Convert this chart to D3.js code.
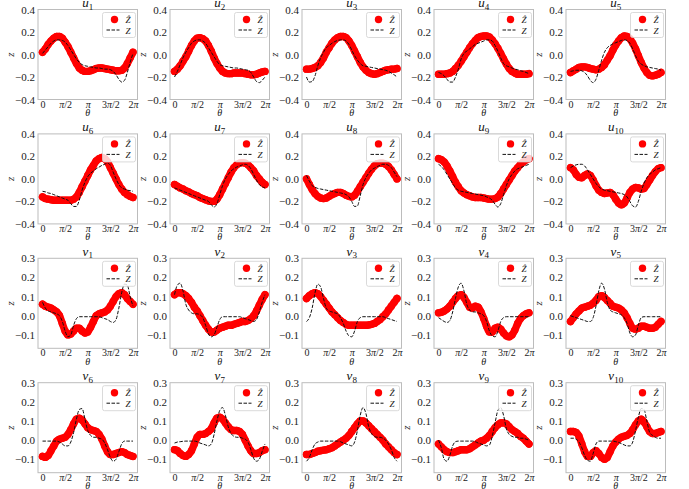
<!DOCTYPE html>
<html>
<head>
<meta charset="utf-8">
<script src="https://cdn.jsdelivr.net/npm/d3@7"></script>
<style>
body { margin: 0; background: #fff; }
svg { display: block; font-family: "Liberation Serif", "DejaVu Serif", serif; }
</style>
</head>
<body>
<div class="chart"></div>
<script>
// sample angles, in units of pi
const thetaPi = [0,0.0625,0.125,0.1875,0.25,0.3125,0.375,0.4375,0.5,0.5625,0.625,0.6875,0.75,0.8125,0.875,0.9375,1,
  1.0625,1.125,1.1875,1.25,1.3125,1.375,1.4375,1.5,1.5625,1.625,1.6875,1.75,1.8125,1.875,1.9375,2];

const xTickVals = [0, 0.5, 1, 1.5, 2];
const xTickLabels = [["0"], ["π", "/2"], ["π"], ["3", "π", "/2"], ["2", "π"]];
const yTicksU = [-0.4, -0.2, 0.0, 0.2, 0.4];
const yTicksV = [-0.1, 0.0, 0.1, 0.2, 0.3];

// predicted (Zhat, red dots) and true (Z, dashed) values
const u1Hat = [0.02,0.05,0.09,0.12,0.145,0.16,0.16,0.145,0.11,0.07,0.02,-0.03,-0.08,-0.12,-0.14,-0.15,-0.15,-0.145,-0.135,-0.125,-0.12,-0.12,-0.125,-0.13,-0.135,-0.14,-0.145,-0.145,-0.14,-0.12,-0.08,-0.03,0.02];
const u1Z = [0.01,0.04,0.07,0.10,0.12,0.13,0.13,0.125,0.11,0.08,0.04,0.0,-0.04,-0.07,-0.09,-0.1,-0.105,-0.11,-0.115,-0.12,-0.12,-0.125,-0.13,-0.13,-0.135,-0.15,-0.18,-0.22,-0.245,-0.23,-0.16,-0.07,0.01];
const u2Hat = [-0.15,-0.13,-0.10,-0.06,-0.02,0.03,0.08,0.12,0.145,0.15,0.14,0.12,0.08,0.03,-0.03,-0.08,-0.12,-0.15,-0.165,-0.17,-0.17,-0.165,-0.165,-0.165,-0.165,-0.17,-0.175,-0.18,-0.18,-0.175,-0.165,-0.155,-0.15];
const u2Z = [-0.2,-0.15,-0.09,-0.03,0.02,0.06,0.1,0.12,0.13,0.13,0.12,0.1,0.06,0.02,-0.02,-0.06,-0.09,-0.1,-0.105,-0.11,-0.115,-0.12,-0.12,-0.125,-0.13,-0.135,-0.14,-0.16,-0.2,-0.24,-0.25,-0.23,-0.2];
const u3Hat = [-0.13,-0.13,-0.125,-0.115,-0.1,-0.07,-0.03,0.02,0.06,0.1,0.13,0.15,0.16,0.16,0.15,0.12,0.08,0.03,-0.02,-0.07,-0.11,-0.14,-0.16,-0.17,-0.175,-0.17,-0.16,-0.15,-0.14,-0.135,-0.13,-0.13,-0.125];
const u3Z = [-0.2,-0.245,-0.24,-0.19,-0.1,-0.03,0.02,0.06,0.08,0.1,0.115,0.125,0.13,0.13,0.12,0.09,0.04,-0.01,-0.05,-0.08,-0.1,-0.105,-0.11,-0.115,-0.12,-0.125,-0.13,-0.135,-0.14,-0.15,-0.165,-0.18,-0.2];
const u4Hat = [-0.175,-0.175,-0.175,-0.17,-0.165,-0.15,-0.125,-0.095,-0.06,-0.02,0.02,0.06,0.095,0.125,0.15,0.16,0.165,0.165,0.155,0.13,0.095,0.055,0.01,-0.04,-0.085,-0.125,-0.15,-0.165,-0.175,-0.175,-0.175,-0.175,-0.17];
const u4Z = [-0.16,-0.17,-0.19,-0.22,-0.245,-0.245,-0.2,-0.13,-0.04,0.01,0.03,0.05,0.07,0.09,0.1,0.11,0.12,0.13,0.13,0.12,0.08,0.03,-0.03,-0.08,-0.1,-0.11,-0.12,-0.13,-0.135,-0.145,-0.15,-0.16,-0.17];
const u5Hat = [-0.16,-0.145,-0.13,-0.115,-0.11,-0.11,-0.115,-0.125,-0.13,-0.135,-0.13,-0.115,-0.09,-0.05,-0.01,0.04,0.085,0.12,0.15,0.165,0.16,0.14,0.1,0.05,-0.01,-0.07,-0.12,-0.16,-0.185,-0.19,-0.185,-0.175,-0.16];
const u5Z = [-0.15,-0.145,-0.14,-0.14,-0.145,-0.16,-0.19,-0.23,-0.25,-0.22,-0.14,-0.05,0.02,0.06,0.08,0.095,0.105,0.115,0.125,0.13,0.125,0.1,0.05,-0.01,-0.06,-0.085,-0.1,-0.11,-0.115,-0.12,-0.125,-0.13,-0.14];
const u6Hat = [-0.16,-0.175,-0.18,-0.185,-0.19,-0.19,-0.19,-0.19,-0.19,-0.19,-0.19,-0.18,-0.16,-0.12,-0.07,-0.02,0.03,0.08,0.12,0.16,0.18,0.19,0.18,0.15,0.1,0.05,0.0,-0.05,-0.09,-0.12,-0.14,-0.155,-0.165];
const u6Z = [-0.11,-0.115,-0.125,-0.13,-0.14,-0.15,-0.16,-0.17,-0.18,-0.19,-0.22,-0.245,-0.245,-0.19,-0.1,-0.03,0.02,0.05,0.07,0.09,0.105,0.12,0.13,0.14,0.12,0.06,0.0,-0.05,-0.08,-0.09,-0.1,-0.105,-0.11];
const u7Hat = [-0.05,-0.065,-0.08,-0.09,-0.105,-0.115,-0.13,-0.14,-0.15,-0.165,-0.175,-0.185,-0.195,-0.2,-0.2,-0.18,-0.14,-0.09,-0.04,0.01,0.06,0.1,0.125,0.14,0.145,0.14,0.125,0.1,0.07,0.03,0.0,-0.03,-0.05];
const u7Z = [-0.08,-0.09,-0.1,-0.11,-0.12,-0.13,-0.14,-0.15,-0.16,-0.17,-0.18,-0.19,-0.2,-0.23,-0.25,-0.22,-0.14,-0.06,0.0,0.04,0.07,0.09,0.105,0.115,0.125,0.13,0.12,0.09,0.04,-0.01,-0.05,-0.07,-0.08];
const u8Hat = [0.0,-0.05,-0.095,-0.13,-0.155,-0.17,-0.175,-0.17,-0.155,-0.14,-0.13,-0.12,-0.12,-0.13,-0.145,-0.155,-0.16,-0.145,-0.11,-0.07,-0.03,0.01,0.05,0.085,0.115,0.135,0.14,0.14,0.13,0.11,0.08,0.04,0.0];
const u8Z = [0.03,-0.02,-0.06,-0.075,-0.085,-0.09,-0.095,-0.1,-0.105,-0.11,-0.115,-0.12,-0.125,-0.13,-0.14,-0.16,-0.2,-0.245,-0.24,-0.15,-0.05,0.01,0.05,0.08,0.095,0.11,0.12,0.13,0.13,0.12,0.1,0.06,0.02];
const u9Hat = [0.18,0.17,0.15,0.115,0.07,0.02,-0.03,-0.07,-0.105,-0.125,-0.14,-0.15,-0.16,-0.165,-0.165,-0.165,-0.17,-0.175,-0.18,-0.18,-0.175,-0.16,-0.13,-0.09,-0.05,-0.01,0.03,0.07,0.1,0.13,0.15,0.17,0.18];
const u9Z = [0.13,0.11,0.08,0.04,0.0,-0.04,-0.08,-0.1,-0.11,-0.115,-0.12,-0.125,-0.13,-0.135,-0.14,-0.145,-0.15,-0.16,-0.17,-0.19,-0.225,-0.25,-0.22,-0.14,-0.06,0.0,0.04,0.07,0.09,0.1,0.11,0.12,0.13];
const u10Hat = [0.1,0.08,0.04,0.015,0.01,0.03,0.045,0.03,-0.01,-0.06,-0.1,-0.12,-0.13,-0.125,-0.12,-0.14,-0.18,-0.215,-0.23,-0.215,-0.17,-0.12,-0.09,-0.075,-0.08,-0.09,-0.085,-0.05,-0.01,0.03,0.065,0.09,0.1];
const u10Z = [0.1,0.115,0.125,0.13,0.13,0.115,0.08,0.04,0.0,-0.04,-0.07,-0.09,-0.1,-0.105,-0.11,-0.115,-0.12,-0.125,-0.13,-0.14,-0.16,-0.2,-0.24,-0.25,-0.2,-0.11,-0.04,0.01,0.04,0.06,0.08,0.09,0.1];

const v1Hat = [0.06,0.05,0.045,0.04,0.03,0.02,0.0,-0.04,-0.08,-0.1,-0.095,-0.08,-0.065,-0.065,-0.08,-0.09,-0.085,-0.06,-0.03,0.0,0.01,0.015,0.02,0.03,0.05,0.075,0.1,0.115,0.12,0.11,0.09,0.075,0.06];
const v1Z = [0.07,0.04,0.025,0.02,0.015,0.01,0.0,-0.03,-0.08,-0.11,-0.1,-0.05,-0.015,-0.005,-0.005,-0.005,-0.005,-0.005,-0.005,-0.005,-0.005,-0.01,-0.015,-0.02,-0.03,-0.035,-0.02,0.04,0.12,0.165,0.16,0.1,0.05];
const v2Hat = [0.11,0.12,0.12,0.115,0.105,0.09,0.07,0.045,0.025,0.0,-0.025,-0.05,-0.07,-0.085,-0.085,-0.075,-0.065,-0.06,-0.055,-0.05,-0.05,-0.045,-0.04,-0.035,-0.03,-0.03,-0.025,-0.015,0.0,0.025,0.055,0.085,0.11];
const v2Z = [0.11,0.16,0.17,0.13,0.06,0.03,0.015,0.01,0.01,0.005,-0.01,-0.05,-0.095,-0.11,-0.1,-0.06,-0.02,-0.005,-0.005,-0.005,-0.005,-0.005,-0.005,-0.005,-0.01,-0.015,-0.02,-0.025,-0.03,-0.02,0.02,0.07,0.11];
const v3Hat = [0.09,0.105,0.115,0.12,0.115,0.1,0.08,0.06,0.04,0.02,0.005,-0.01,-0.025,-0.035,-0.045,-0.05,-0.05,-0.05,-0.05,-0.05,-0.05,-0.05,-0.048,-0.045,-0.04,-0.03,-0.02,-0.005,0.01,0.03,0.05,0.07,0.09];
const v3Z = [-0.03,-0.01,0.04,0.12,0.165,0.15,0.09,0.04,0.025,0.02,0.015,0.01,-0.01,-0.04,-0.08,-0.105,-0.11,-0.08,-0.03,-0.01,-0.005,-0.005,-0.005,-0.005,-0.005,-0.005,-0.005,-0.005,-0.01,-0.015,-0.02,-0.025,-0.03];
const v4Hat = [0.015,0.018,0.025,0.035,0.05,0.07,0.09,0.105,0.11,0.095,0.07,0.045,0.04,0.05,0.045,0.02,-0.015,-0.055,-0.085,-0.085,-0.065,-0.06,-0.07,-0.09,-0.105,-0.11,-0.1,-0.075,-0.04,-0.015,0.0,0.01,0.015];
const v4Z = [-0.01,-0.02,-0.03,-0.035,-0.025,0.02,0.09,0.15,0.17,0.13,0.06,0.03,0.02,0.02,0.015,0.01,0.0,-0.03,-0.08,-0.105,-0.11,-0.08,-0.03,-0.01,-0.005,-0.005,-0.005,-0.005,-0.005,-0.005,-0.005,-0.005,-0.005];
const v5Hat = [-0.03,-0.01,0.01,0.025,0.04,0.045,0.05,0.055,0.065,0.08,0.1,0.105,0.095,0.08,0.065,0.05,0.045,0.04,0.03,0.015,-0.01,-0.04,-0.065,-0.07,-0.065,-0.055,-0.055,-0.06,-0.065,-0.065,-0.06,-0.045,-0.03];
const v5Z = [0.0,-0.005,-0.01,-0.015,-0.02,-0.025,-0.03,-0.03,-0.01,0.05,0.13,0.17,0.14,0.07,0.03,0.02,0.015,0.01,0.005,-0.01,-0.04,-0.09,-0.11,-0.1,-0.05,-0.01,-0.005,-0.005,-0.005,-0.005,-0.005,-0.005,-0.005];
const v6Hat = [-0.085,-0.09,-0.08,-0.055,-0.03,-0.005,0.005,0.01,0.015,0.03,0.055,0.085,0.11,0.115,0.105,0.085,0.065,0.055,0.05,0.045,0.03,0.005,-0.03,-0.06,-0.075,-0.075,-0.07,-0.065,-0.06,-0.065,-0.075,-0.08,-0.085];
const v6Z = [-0.005,-0.005,-0.005,-0.005,-0.005,-0.005,-0.01,-0.02,-0.03,-0.03,-0.01,0.04,0.11,0.16,0.165,0.11,0.05,0.025,0.015,0.015,0.01,0.005,-0.015,-0.05,-0.09,-0.11,-0.1,-0.06,-0.02,-0.005,-0.005,-0.005,-0.005];
const v7Hat = [-0.05,-0.055,-0.07,-0.08,-0.085,-0.075,-0.055,-0.02,0.015,0.03,0.03,0.035,0.045,0.06,0.09,0.115,0.12,0.11,0.09,0.07,0.055,0.05,0.05,0.045,0.03,0.0,-0.03,-0.055,-0.07,-0.07,-0.065,-0.055,-0.05];
const v7Z = [-0.015,-0.01,-0.008,-0.006,-0.005,-0.005,-0.005,-0.005,-0.008,-0.015,-0.02,-0.025,-0.03,-0.02,0.03,0.1,0.155,0.17,0.13,0.07,0.035,0.02,0.015,0.015,0.01,0.005,-0.01,-0.05,-0.095,-0.11,-0.1,-0.06,-0.02];
const v8Hat = [-0.075,-0.075,-0.07,-0.065,-0.058,-0.055,-0.052,-0.05,-0.045,-0.04,-0.03,-0.02,-0.01,0.0,0.01,0.025,0.045,0.065,0.085,0.1,0.1,0.09,0.075,0.06,0.045,0.03,0.015,0.0,-0.02,-0.035,-0.05,-0.065,-0.075];
const v8Z = [-0.11,-0.09,-0.05,-0.02,-0.01,-0.005,-0.005,-0.005,-0.005,-0.005,-0.005,-0.005,-0.008,-0.015,-0.02,-0.025,-0.03,-0.01,0.05,0.13,0.17,0.14,0.07,0.035,0.02,0.015,0.015,0.01,0.0,-0.02,-0.05,-0.09,-0.11];
const v9Hat = [-0.02,-0.035,-0.05,-0.06,-0.065,-0.065,-0.06,-0.055,-0.05,-0.05,-0.05,-0.045,-0.035,-0.025,-0.015,-0.005,0.0,0.01,0.025,0.045,0.065,0.08,0.09,0.09,0.085,0.07,0.055,0.045,0.035,0.02,0.01,-0.005,-0.02];
const v9Z = [0.0,-0.04,-0.1,-0.11,-0.08,-0.03,-0.008,-0.005,-0.005,-0.005,-0.005,-0.005,-0.005,-0.008,-0.015,-0.02,-0.025,-0.03,-0.025,0.02,0.09,0.155,0.17,0.13,0.06,0.03,0.02,0.015,0.015,0.01,0.01,0.005,0.0];
const v10Hat = [0.045,0.045,0.04,0.02,-0.02,-0.06,-0.085,-0.085,-0.065,-0.055,-0.07,-0.09,-0.1,-0.09,-0.06,-0.03,-0.01,0.005,0.015,0.02,0.025,0.035,0.055,0.08,0.1,0.11,0.095,0.07,0.045,0.035,0.035,0.04,0.045];
const v10Z = [0.01,0.01,0.005,-0.01,-0.04,-0.08,-0.105,-0.11,-0.07,-0.02,-0.005,-0.005,-0.005,-0.005,-0.005,-0.005,-0.008,-0.012,-0.018,-0.025,-0.03,-0.03,-0.01,0.05,0.12,0.165,0.16,0.1,0.04,0.025,0.015,0.01,0.01];

const panels = [
  ["u", "1", u1Hat, u1Z], ["u", "2", u2Hat, u2Z], ["u", "3", u3Hat, u3Z], ["u", "4", u4Hat, u4Z], ["u", "5", u5Hat, u5Z],
  ["u", "6", u6Hat, u6Z], ["u", "7", u7Hat, u7Z], ["u", "8", u8Hat, u8Z], ["u", "9", u9Hat, u9Z], ["u", "10", u10Hat, u10Z],
  ["v", "1", v1Hat, v1Z], ["v", "2", v2Hat, v2Z], ["v", "3", v3Hat, v3Z], ["v", "4", v4Hat, v4Z], ["v", "5", v5Hat, v5Z],
  ["v", "6", v6Hat, v6Z], ["v", "7", v7Hat, v7Z], ["v", "8", v8Hat, v8Z], ["v", "9", v9Hat, v9Z], ["v", "10", v10Hat, v10Z]
];

const W = 689, H = 489;
const pw = 99.5, ph = 90;
const left0 = 38, colStep = 132;
const top0 = 9.5, rowStep = 124.4;
const spine = "#bcbcbc";
const serif = "Liberation Serif, DejaVu Serif, serif";

const svg = d3.select(".chart").append("svg")
    .attr("width", W)
    .attr("height", H);

const fmt = d3.format(".1f");

panels.forEach((p, i) => {
    const row = Math.floor(i / 5), col = i % 5;
    const isU = p[0] === "u";
    const g = svg.append("g")
        .attr("transform", `translate(${left0 + col * colStep},${top0 + row * rowStep})`);

    const x = d3.scaleLinear().domain([-0.1, 2.1]).range([0, pw]);
    const y = d3.scaleLinear()
        .domain(isU ? [-0.4, 0.4] : [-0.17, 0.3])
        .range([ph, 0]);

    // axes frame
    g.append("rect")
        .attr("width", pw).attr("height", ph)
        .attr("fill", "none").attr("stroke", spine).attr("stroke-width", 1);

    // y ticks
    const yAxis = d3.axisLeft(y)
        .tickValues(isU ? yTicksU : yTicksV)
        .tickFormat(fmt)
        .tickSize(0).tickPadding(3);
    const ya = g.append("g").call(yAxis)
        .attr("font-family", serif).attr("font-size", 11);
    ya.select(".domain").remove();
    ya.selectAll("text").attr("fill", "#222");

    // x ticks
    const xAxis = d3.axisBottom(x).tickValues(xTickVals).tickFormat("").tickSize(0);
    const xa = g.append("g").attr("transform", `translate(0,${ph})`).call(xAxis)
        .attr("font-family", serif).attr("font-size", 10);
    xa.select(".domain").remove();
    xa.selectAll(".tick").each(function(d, j) {
        const t = d3.select(this).append("text")
            .attr("y", 8).attr("text-anchor", "middle")
            .attr("fill", "#222");
        xTickLabels[j].forEach(s => {
            t.append("tspan").text(s).attr("font-style", s === "π" ? "italic" : null);
        });
    });

    // axis labels
    g.append("text")
        .attr("x", pw / 2).attr("y", ph + 16.5)
        .attr("text-anchor", "middle")
        .attr("font-size", 10).attr("font-style", "italic").attr("fill", "#222")
        .text("θ");
    g.append("text")
        .attr("transform", `translate(-24.5,${ph / 2}) rotate(-90)`)
        .attr("text-anchor", "middle")
        .attr("font-size", 11).attr("font-style", "italic").attr("fill", "#222")
        .text("z");

    // title
    const title = g.append("text")
        .attr("x", pw / 2).attr("y", -2.5)
        .attr("text-anchor", "middle")
        .attr("font-size", 13).attr("fill", "#111");
    title.append("tspan").attr("font-style", "italic").text(p[0]);
    title.append("tspan").attr("font-size", 9).attr("dy", 2.5).text(p[1]);

    // predicted values: dense red markers, drawn as a band plus the markers
    const band = d3.line()
        .x((d, k) => x(thetaPi[k]))
        .y(d => y(d))
        .curve(d3.curveMonotoneX);
    g.append("path")
        .datum(p[2])
        .attr("d", band)
        .attr("fill", "none")
        .attr("stroke", "red")
        .attr("stroke-width", 7.4)
        .attr("stroke-linecap", "round")
        .attr("stroke-linejoin", "round");
    g.append("g").selectAll("circle")
        .data(p[2])
        .join("circle")
        .attr("cx", (d, k) => x(thetaPi[k]))
        .attr("cy", d => y(d))
        .attr("r", 3.7)
        .attr("fill", "red");

    // true values (dashed line)
    g.append("path")
        .datum(p[3])
        .attr("d", band)
        .attr("fill", "none")
        .attr("stroke", "#111")
        .attr("stroke-width", 1)
        .attr("stroke-dasharray", "3.5,1.5");

    // legend
    const lg = g.append("g").attr("transform", `translate(${pw - 35},3)`);
    lg.append("rect")
        .attr("width", 33).attr("height", 25).attr("rx", 2)
        .attr("fill", "white").attr("fill-opacity", 0.8)
        .attr("stroke", "#d0d0d0").attr("stroke-width", 0.8);
    lg.append("circle").attr("cx", 12).attr("cy", 7).attr("r", 3.7).attr("fill", "red");
    lg.append("text").attr("x", 23).attr("y", 10.5)
        .attr("font-size", 9).attr("font-style", "italic").attr("fill", "#222").text("Ẑ");
    lg.append("line").attr("x1", 4).attr("x2", 17).attr("y1", 17.5).attr("y2", 17.5)
        .attr("stroke", "#111").attr("stroke-width", 1).attr("stroke-dasharray", "3.5,1.5");
    lg.append("text").attr("x", 23).attr("y", 21)
        .attr("font-size", 9).attr("font-style", "italic").attr("fill", "#222").text("Z");
});
</script>
</body>
</html>
